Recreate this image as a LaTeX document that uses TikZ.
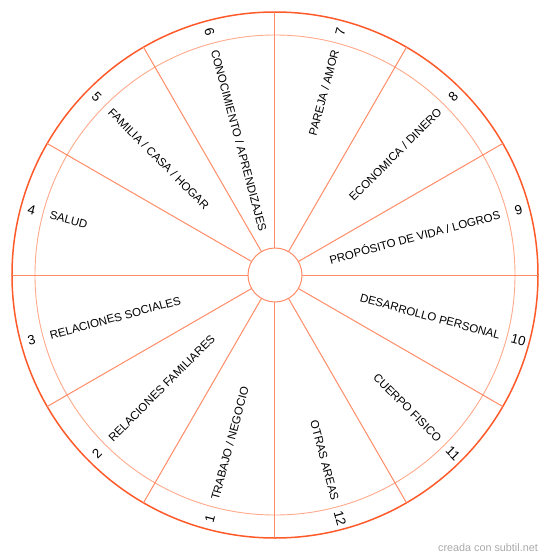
\documentclass[tikz,border=0pt]{standalone}
\usepackage{fontspec}
\setmainfont{Liberation Sans}
\definecolor{outerc}{HTML}{FF5A2A}
\definecolor{ringc}{HTML}{FFAA8C}
\definecolor{spokec}{HTML}{FF8C66}
\definecolor{creditc}{HTML}{AAAAAA}
\tikzset{
  wheel/.style={circle, inner sep=0pt, outer sep=0pt},
  spokeline/.style={draw=spokec, line width=1pt},
  areatext/.style={inner sep=0pt, text height=8.2pt, text depth=0pt,
    font=\fontsize{11.5}{13}\selectfont, text=black},
  numtext/.style={inner sep=0pt, text height=9.5pt, text depth=0pt,
    font=\fontsize{13.3}{15}\selectfont, text=black},
}
\begin{document}
\begin{tikzpicture}[x=1pt,y=1pt]
\useasboundingbox (-275pt,-285pt) rectangle (275pt,275pt);
\fill[white] (-275pt,-285pt) rectangle (275pt,275pt);
\node[wheel, draw=outerc, line width=1.5pt, minimum size=526pt] (outer) at (0,0) {};
\node[wheel, draw=ringc, line width=0.9pt, minimum size=480pt] (ring) at (0,0) {};
\node[wheel, draw=spokec, line width=1pt, minimum size=54pt] (hub) at (0,0) {};
\foreach \a in {0,30,...,330}
  \draw[spokeline] (hub.\a) -- (outer.\a);
% left half: sectors 1-6
\foreach \k/\t in {1/{TRABAJO / NEGOCIO}, 2/{RELACIONES FAMILIARES}, 3/{RELACIONES SOCIALES},
                   4/{SALUD}, 5/{FAMILIA / CASA / HOGAR}, 6/{CONOCIMIENTO / APRENDIZAJES}}{
  \pgfmathsetmacro\ang{285-30*\k}
  \pgfmathsetmacro\rot{\ang-180}
  \node[areatext, anchor=west, rotate=\rot] (lab\k) at (\ang:233pt) {\t};
  \node[numtext, anchor=center, rotate=\rot] (num\k) at (\ang:252pt) {\k};
}
% right half: sectors 7-12
\foreach \k/\t in {7/{PAREJA / AMOR}, 8/{ECONOMICA / DINERO}, 9/{PROPÓSITO DE VIDA / LOGROS},
                   10/{DESARROLLO PERSONAL}, 11/{CUERPO FISICO}, 12/{OTRAS AREAS}}{
  \pgfmathsetmacro\ang{285-30*\k}
  \node[areatext, anchor=east, rotate=\ang] (lab\k) at (\ang:233pt) {\t};
  \node[numtext, anchor=center, rotate=\ang] (num\k) at (\ang:252pt) {\k};
}
\node[anchor=east, inner sep=0pt, text=creditc, font=\fontsize{10.8}{12}\selectfont]
  (credit) at (263pt,-273pt) {creada con subtil.net};
\end{tikzpicture}
\end{document}
